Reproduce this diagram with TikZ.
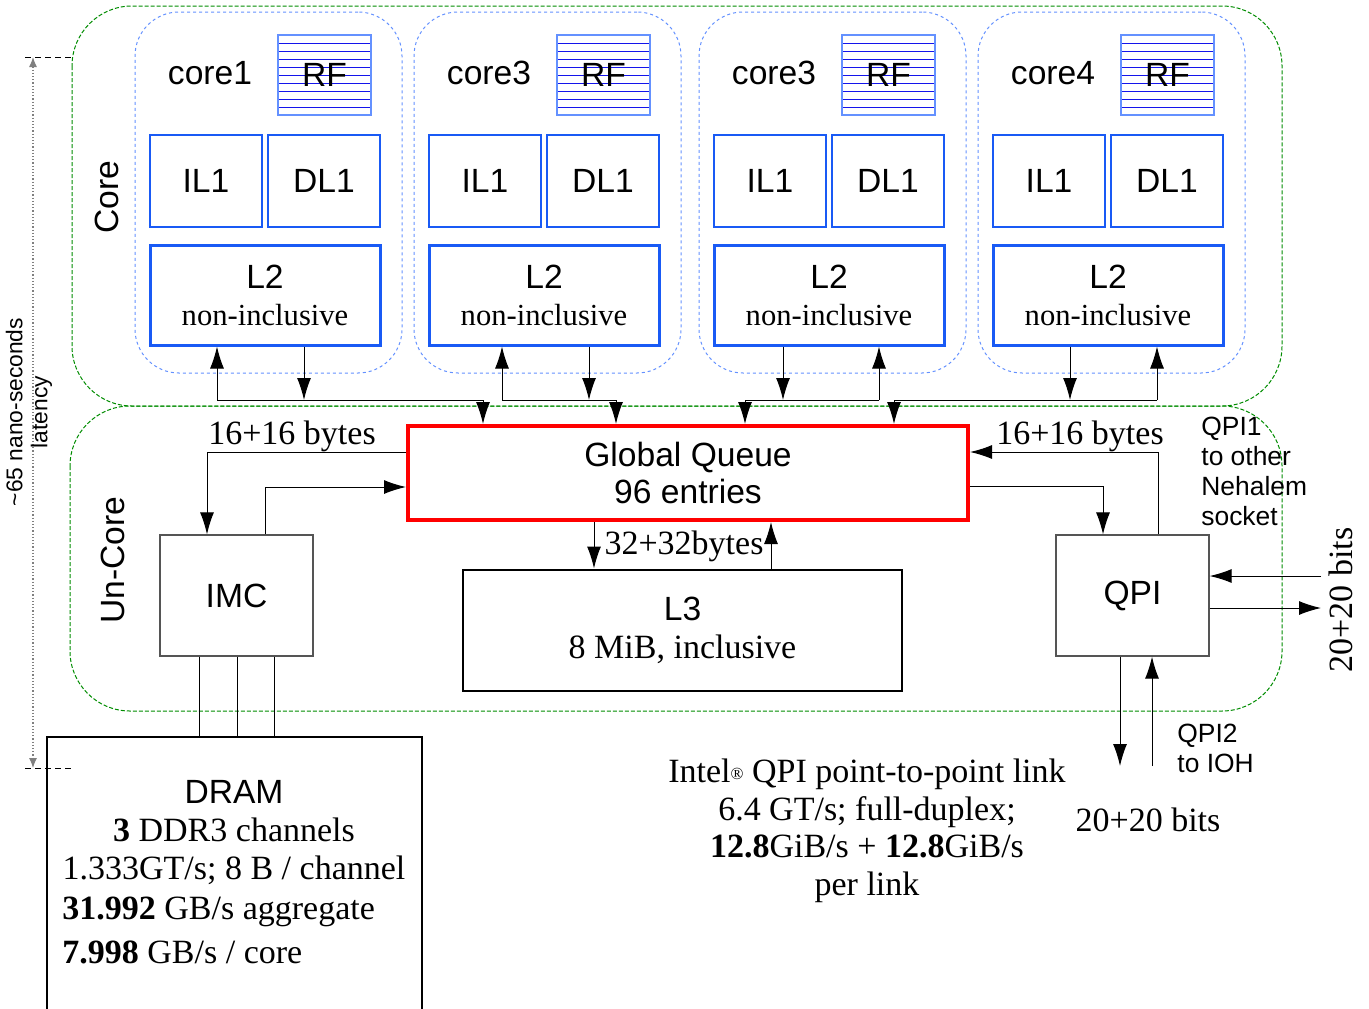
\documentclass[tikz,border=0pt]{standalone}
\usepackage{fontspec}
\setmainfont{Liberation Serif}
\setsansfont{Liberation Sans}
\usetikzlibrary{arrows.meta}

\definecolor{coreblue}{RGB}{25,90,245}
\definecolor{rfblue}{RGB}{20,20,235}
\definecolor{lightblue}{RGB}{100,145,255}
\definecolor{zonegreen}{RGB}{0,140,0}
\definecolor{gqred}{RGB}{255,0,0}
\definecolor{boxgray}{RGB}{85,85,85}

\begin{document}
\begin{tikzpicture}
  [x=0.5pt, y=-0.5pt,
   zone/.style={draw=zonegreen, line width=0.5pt, dash pattern=on 2pt off 1pt, rounded corners=30pt},
   corezone/.style={draw=lightblue, line width=0.5pt, dash pattern=on 1.5pt off 1.5pt, rounded corners=22pt,
     minimum width=133.5pt, minimum height=180.5pt},
   sans/.style={font=\sffamily\fontsize{16.8}{18.5}\selectfont},
   serif/.style={font=\rmfamily\fontsize{17}{18.5}\selectfont},
   small/.style={font=\sffamily\fontsize{13.2}{15}\selectfont},
   rfbox/.style={draw=lightblue, line width=0.8pt, minimum width=46.5pt, minimum height=40pt, sans},
   l1box/.style={draw=coreblue, line width=0.6pt, minimum width=56pt, minimum height=46pt, sans},
   l2box/.style={draw=coreblue, line width=1.5pt, minimum width=115pt, minimum height=50pt, align=center, sans},
   unit/.style={draw=boxgray, line width=0.6pt, minimum width=76.5pt, minimum height=60.5pt, sans},
   arr/.style={-{Latex[length=11pt,width=7pt]}, line width=0.5pt},
   lat/.style={{Latex[length=5pt,width=4pt]}-{Latex[length=5pt,width=4pt]}}]
\useasboundingbox (0,0) rectangle (1369,1008);

% core and un-core zones
\draw[zone] (72,6) rectangle (1282,406);
\draw[zone] (70,406) rectangle (1282,711);
\node[sans, rotate=90] (corelbl) at (107,197) {Core};
\node[sans, rotate=90] (uncorelbl) at (113,560) {Un-Core};

% the four cores
\foreach \i/\dx/\cname in {1/0/core1, 2/279/core3, 3/564/core3, 4/843/core4} {
  \begin{scope}[shift={(\dx,0)}]
    \node[corezone] (c\i) at (268.5,192.5) {};
    \node[sans] (c\i-name) at (210,73) {\cname};
    \foreach \k in {1,...,9}
      \draw[rfblue, line width=0.45pt] (278,{35+8*\k}) -- (371,{35+8*\k});
    \node[rfbox] (c\i-rf) at (324.5,75) {RF};
    \node[l1box] (c\i-il1) at (206,181) {IL1};
    \node[l1box] (c\i-dl1) at (324,181) {DL1};
    \node[l2box] (c\i-l2) at (265,295)
      {L2\\{\rmfamily\fontsize{15.3}{18.5}\selectfont non-inclusive}};
  \end{scope}
}

% un-core blocks
\node[draw=gqred, line width=2pt, minimum width=280pt, minimum height=47pt, align=center, sans]
  (gq) at (688,473) {Global Queue\\96 entries};
\node[draw, line width=1pt, minimum width=219.5pt, minimum height=60.5pt, align=center,
  font=\sffamily\fontsize{16.8}{19}\selectfont]
  (l3) at (682.5,630) {L3\\{\rmfamily\fontsize{17}{19}\selectfont 8 MiB, inclusive}};
\node[unit] (imc) at (236.5,595.5) {IMC};
\node[unit] (qpi) at (1132.5,595.5) {QPI};
\node[draw, line width=1pt, minimum width=187.5pt, minimum height=141.5pt] (dram) at (234.5,878.5) {};

% cores to global queue
\coordinate (c1up) at (217,400);  \coordinate (c1dn) at (304,400);  \coordinate (c1gq) at (483,400);
\coordinate (c2up) at (502,400);  \coordinate (c2dn) at (589,400);  \coordinate (c2gq) at (616,400);
\coordinate (c3up) at (879,400);  \coordinate (c3dn) at (783,400);  \coordinate (c3gq) at (745,400);
\coordinate (c4up) at (1157,400); \coordinate (c4dn) at (1070,400); \coordinate (c4gq) at (894,400);
\foreach \i in {1,2,3,4} {
  \draw[arr] (c\i up) -- (c\i-l2.south -| c\i up);
  \draw[arr] (c\i-l2.south -| c\i dn) -- (c\i dn);
  \draw[arr] (c\i up) -| (gq.north -| c\i gq);
}

% global queue to IMC
\coordinate (imcin) at (207,452);
\coordinate (imcout) at (265,487);
\draw[arr] (gq.west |- imcin) -| (imc.north -| imcin);
\draw[arr] (imc.north -| imcout) |- (gq.west |- imcout);
\node[serif] (imcbw) at (292,436) {16+16 bytes};

% global queue to QPI
\coordinate (qpiout) at (1158,452);
\coordinate (qpiin) at (1103,486);
\draw[arr] (qpi.north -| qpiout) |- (gq.east |- qpiout);
\draw[arr] (gq.east |- qpiin) -| (qpi.north -| qpiin);
\node[serif] (qpibw) at (1080,436) {16+16 bytes};

% global queue to L3
\coordinate (l3in) at (594,0);
\coordinate (l3out) at (771,0);
\draw[arr] (gq.south -| l3in) -- (l3.north -| l3in);
\draw[arr] (l3.north -| l3out) -- (gq.south -| l3out);
\node[serif] (l3bw) at (684,546) {32+32bytes};

% IMC to DRAM, three channels
\coordinate (ch1) at (199,0);
\coordinate (ch2) at (237,0);
\coordinate (ch3) at (274,0);
\draw[line width=0.5pt] (imc.south -| ch1) -- (dram.north -| ch1);
\draw[line width=0.5pt] (imc.south -| ch2) -- (dram.north -| ch2);
\draw[line width=0.5pt] (imc.south -| ch3) -- (dram.north -| ch3);

\node[align=center, font=\rmfamily\fontsize{17}{19}\selectfont] (dramtop) at (234,833)
  {{\sffamily\fontsize{16.8}{19}\selectfont DRAM}\\\textbf{3} DDR3 channels\\1.333GT/s; 8 B / channel};
\node[anchor=west, align=left, inner sep=0pt, font=\rmfamily\fontsize{17}{19}\selectfont] (dramrate) at (62,930)
  {\textbf{31.992} GB/s aggregate\\[3pt]\textbf{7.998} GB/s / core};

% QPI links
\coordinate (qpi1in) at (1321,576);
\coordinate (qpi1out) at (1321,608);
\draw[arr] (qpi1in) -- (qpi.east |- qpi1in);
\draw[arr] (qpi.east |- qpi1out) -- (qpi1out);
\node[serif, rotate=90] (qpi1bits) at (1341,600) {20+20 bits};
\node[small, anchor=west, align=left, inner sep=0pt] (qpi1lbl) at (1201,471)
  {QPI1\\to other\\Nehalem\\socket};

\coordinate (qpi2out) at (1120,766);
\coordinate (qpi2in) at (1152,766);
\draw[arr] (qpi.south -| qpi2out) -- (qpi2out);
\draw[arr] (qpi2in) -- (qpi.south -| qpi2in);
\node[small, anchor=west, align=left, inner sep=0pt] (qpi2lbl) at (1177,748) {QPI2\\to IOH};
\node[serif] (qpi2bits) at (1148,820) {20+20 bits};

\node[align=center, font=\rmfamily\fontsize{17}{18.75}\selectfont] (qpinote) at (867,831)
  {Intel{\fontsize{8.5}{8}\selectfont\raisebox{1.5pt}{®}} QPI point-to-point link\\6.4 GT/s; full-duplex;\\
   \textbf{12.8}GiB/s + \textbf{12.8}GiB/s\\per link};

% latency
\coordinate (lattop) at (33,57);
\coordinate (latbot) at (33,768);
\coordinate (tickt) at (72,57);
\coordinate (tickb) at (72,768);
\draw[densely dashed, line width=0.4pt] (25,57) -- (tickt);
\draw[densely dashed, line width=0.4pt] (25,768) -- (tickb);
\draw[lat, gray, densely dotted, line width=0.6pt] (lattop) -- (latbot);
\node[rotate=90, align=center, font=\sffamily\fontsize{11.4}{12.5}\selectfont] (latlbl) at (29,412)
  {\textasciitilde65 nano-seconds\\latency};
\end{tikzpicture}
\end{document}
